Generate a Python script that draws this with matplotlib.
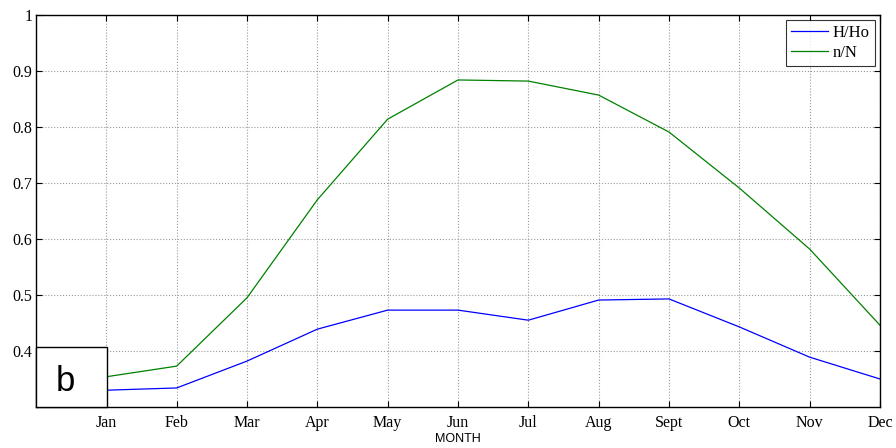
import matplotlib
matplotlib.use("Agg")
import matplotlib.pyplot as plt
from matplotlib.patches import Rectangle

months = ["Jan", "Feb", "Mar", "Apr", "May", "Jun", "Jul", "Aug", "Sept", "Oct", "Nov", "Dec"]
h_ho = [0.330, 0.334, 0.382, 0.439, 0.473, 0.473, 0.455, 0.491, 0.493, 0.443, 0.389, 0.350]
n_N = [0.354, 0.373, 0.495, 0.670, 0.814, 0.884, 0.882, 0.857, 0.791, 0.691, 0.582, 0.446]
yticks = [0.4, 0.5, 0.6, 0.7, 0.8, 0.9, 1.0]
ytick_labels = ["0.4", "0.5", "0.6", "0.7", "0.8", "0.9", "1"]

serif = ["Liberation Serif", "DejaVu Serif"]
sans = ["Liberation Sans", "DejaVu Sans"]

fig = plt.figure(figsize=(8.96, 4.48), dpi=100)
ax = fig.add_axes([36/896, 1 - 407/448, (880 - 36)/896, (407 - 15)/448])

x = list(range(1, len(months) + 1))
ax.plot(x, h_ho, color="#0000ff", lw=0.9, label="H/Ho")
ax.plot(x, n_N, color="#008000", lw=0.9, label="n/N")

ax.set_xlim(0, 12)
ax.set_ylim(0.3, 1.0)
ax.set_xticks(x)
ax.set_xticklabels(months, fontfamily=serif, fontsize=11.5)
ax.set_yticks(yticks)
ax.set_yticklabels(ytick_labels, fontfamily=serif, fontsize=11.5)
ax.tick_params(direction="in", top=True, right=True, length=4, width=0.8)
ax.tick_params(axis="x", pad=6)
ax.tick_params(axis="y", pad=2.5)
ax.grid(True, color="#999999", linestyle=":", linewidth=0.8)
for s in ax.spines.values():
    s.set_linewidth(1.0)

ax.set_xlabel("MONTH", fontfamily=sans, fontsize=9, labelpad=1)

leg = ax.legend(loc="upper right", prop={"family": serif, "size": 12},
                frameon=True, fancybox=False, edgecolor="black",
                handlelength=2.2, handletextpad=0.3, borderpad=0.3,
                labelspacing=0.25, borderaxespad=0.3)
leg.get_frame().set_linewidth(0.8)

rect = Rectangle((0, 0), 71/844, 60/392, transform=ax.transAxes,
                 facecolor="white", edgecolor="black", lw=1.0, zorder=5, clip_on=False)
ax.add_patch(rect)
ax.text(29/844, 26/392, "b", transform=ax.transAxes, fontfamily=sans,
        fontsize=25, ha="center", va="center", zorder=6)

fig.savefig("out.png", dpi=100)
